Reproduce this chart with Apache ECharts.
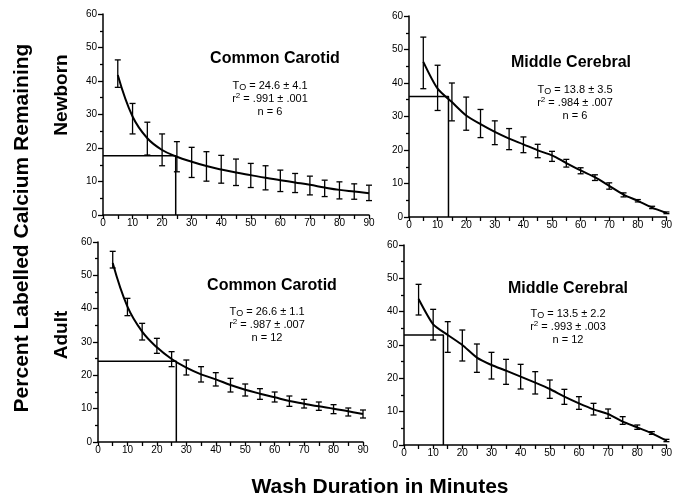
<!DOCTYPE html>
<html>
<head>
<meta charset="utf-8">
<script src="https://cdn.jsdelivr.net/npm/echarts@6/dist/echarts.min.js"></script>
<style>
html,body{margin:0;padding:0;background:#fff;}
#main{width:675px;height:502px;}
</style>
</head>
<body>
<div id="main"></div>
<script>
// wash time points (minutes)
var minutes = [5,10,15,20,25,30,35,40,45,50,55,60,65,70,75,80,85,90];

// newborn common carotid
var nbCcCurve = [41.8,29.4,22.9,19.4,17.4,15.9,14.6,13.6,12.7,11.9,11.1,10.4,9.7,9.0,8.2,7.5,7.0,6.5];
var nbCcHigh  = [46.3,33.3,27.7,24.2,21.9,20.2,18.9,17.8,16.7,15.4,14.7,13.4,12.4,11.6,10.4,9.9,9.3,8.9];
var nbCcLow   = [38.1,24.2,17.9,14.7,12.9,11.2,10.1,9.5,8.8,8.2,7.5,7.0,6.7,6.0,5.5,4.8,4.7,4.3];

// newborn middle cerebral
var nbMcCurve = [46.3,38.3,34.3,30.3,27.7,25.4,23.4,21.7,19.9,18.4,16.1,13.9,11.9,9.3,6.7,4.8,2.8,1.2];
var nbMcHigh  = [53.7,45.3,40.0,35.8,32.1,28.7,26.4,23.9,21.7,19.6,17.2,14.7,12.6,10.2,7.2,5.2,3.2,1.5];
var nbMcLow   = [38.3,31.8,28.7,25.9,23.7,21.6,20.1,19.2,17.7,16.6,14.9,12.9,10.9,8.3,6.0,4.5,2.5,1.0];

// adult common carotid
var adCcCurve = [53.7,40.6,33.1,28.4,24.9,22.3,20.3,18.8,17.1,15.7,14.5,13.4,12.3,11.5,10.7,10.0,9.2,8.4];
var adCcHigh  = [57.2,43.1,35.6,31.1,27.1,24.6,22.6,20.8,19.1,17.4,16.0,15.0,13.8,12.8,12.0,11.2,10.2,9.6];
var adCcLow   = [52.2,37.9,30.6,26.6,22.6,20.1,18.0,16.8,15.0,13.8,12.8,12.0,10.7,10.2,9.5,8.5,7.8,7.2];

// adult middle cerebral
var adMcCurve = [43.8,36.2,33.0,30.0,26.2,24.0,22.3,20.5,18.7,16.8,14.5,12.5,10.7,9.3,7.0,5.3,3.5,1.3];
var adMcHigh  = [48.2,40.7,37.0,34.5,30.3,27.8,25.7,24.2,22.0,19.5,16.7,14.5,12.5,10.8,8.5,6.0,4.0,1.7];
var adMcLow   = [39.0,31.5,27.8,25.2,21.8,19.8,18.2,16.8,15.3,14.0,12.2,10.7,9.0,8.0,6.2,4.7,3.2,1.0];

// T0 and the level it is read at, per panel (TL, TR, BL, BR)
var t0Values = [24.6, 13.8, 26.6, 13.5];
var t0Levels = [17.7, 36.0, 24.2, 33.0];

var panelTitles = ['Common Carotid','Middle Cerebral','Common Carotid','Middle Cerebral'];
var t0Text = ['24.6 \u00b1 4.1','13.8 \u00b1 3.5','26.6 \u00b1 1.1','13.5 \u00b1 2.2'];
var r2Text = ['.991 \u00b1 .001','.984 \u00b1 .007','.987 \u00b1 .007','.993 \u00b1 .003'];
var nText = ['6','6','12','12'];

var FONT = '"Liberation Sans", Arial, Helvetica, sans-serif';

var panels = [
    {curve: nbCcCurve, hi: nbCcHigh, lo: nbCcLow, smooth: 0.4},
    {curve: nbMcCurve, hi: nbMcHigh, lo: nbMcLow, smooth: 0.25},
    {curve: adCcCurve, hi: adCcHigh, lo: adCcLow, smooth: 0.4},
    {curve: adMcCurve, hi: adMcHigh, lo: adMcLow, smooth: 0.2}
];

var grids = [
    {left: 103, top: 14, width: 266, height: 201},
    {left: 409, top: 16, width: 263, height: 201},
    {left: 98, top: 242, width: 265, height: 200},
    {left: 404, top: 245, width: 266, height: 200}
];
// where the title / stats block sits in each panel
var titlePos = [[275,59],[571,63],[272,286],[568,289]];
var statPos = [[270,79],[575,83],[267,305],[568,307]];

function renderErr(params, api) {
    var x = api.value(0);
    var top = api.coord([x, api.value(1)]);
    var bot = api.coord([x, api.value(2)]);
    var w = 3;
    var st = {stroke: '#000', lineWidth: 1.3};
    return {
        type: 'group',
        children: [
            {type: 'line', shape: {x1: top[0], y1: top[1], x2: bot[0], y2: bot[1]}, style: st},
            {type: 'line', shape: {x1: top[0] - w, y1: top[1], x2: top[0] + w, y2: top[1]}, style: st},
            {type: 'line', shape: {x1: bot[0] - w, y1: bot[1], x2: bot[0] + w, y2: bot[1]}, style: st}
        ]
    };
}

var xAxes = [], yAxes = [], series = [], graphic = [];

for (var i = 0; i < 4; i++) {
    xAxes.push({
        type: 'value', gridIndex: i, min: 0, max: 90, interval: 10,
        axisLine: {lineStyle: {color: '#000', width: 1.5}},
        axisTick: {length: 4, lineStyle: {color: '#000', width: 1.3}},
        minorTick: {show: true, splitNumber: 2, length: 4, lineStyle: {color: '#000', width: 1.3}},
        splitLine: {show: false},
        axisLabel: {color: '#000', fontSize: 10, fontFamily: FONT, margin: 3, showMaxLabel: true}
    });
    yAxes.push({
        type: 'value', gridIndex: i, min: 0, max: 60, interval: 10,
        axisLine: {show: true, lineStyle: {color: '#000', width: 1.5}},
        axisTick: {show: true, length: 5, lineStyle: {color: '#000', width: 1.3}},
        minorTick: {show: true, splitNumber: 2, length: 3, lineStyle: {color: '#000', width: 1.3}},
        splitLine: {show: false},
        axisLabel: {color: '#000', fontSize: 10, fontFamily: FONT, margin: 6}
    });

    var p = panels[i];
    var curveData = [], errData = [];
    for (var j = 0; j < minutes.length; j++) {
        curveData.push([minutes[j], p.curve[j]]);
        errData.push([minutes[j], p.hi[j], p.lo[j]]);
    }

    // fitted curve
    series.push({
        type: 'line', xAxisIndex: i, yAxisIndex: i, data: curveData,
        smooth: p.smooth, symbol: 'none',
        lineStyle: {color: '#000', width: 2}
    });
    // error bars
    series.push({
        type: 'custom', xAxisIndex: i, yAxisIndex: i, data: errData,
        renderItem: renderErr, encode: {x: 0, y: [1, 2]}
    });
    // T0 drop lines
    series.push({
        type: 'line', xAxisIndex: i, yAxisIndex: i, symbol: 'none',
        data: [[0, t0Levels[i]], [t0Values[i], t0Levels[i]], [t0Values[i], 0]],
        lineStyle: {color: '#000', width: 1.5}
    });

    graphic.push({
        type: 'text', x: titlePos[i][0], y: titlePos[i][1],
        style: {
            text: panelTitles[i], fill: '#000', align: 'center', verticalAlign: 'middle',
            font: 'bold 16px ' + FONT
        }
    });
    graphic.push({
        type: 'text', x: statPos[i][0], y: statPos[i][1],
        style: {
            text: '{t|T}{sub|O}{t| = ' + t0Text[i] + '}\n{t|r}{sup|2}{t| = ' + r2Text[i] + '}\n{t|n = ' + nText[i] + '}',
            align: 'center', verticalAlign: 'top', fill: '#000',
            rich: {
                t: {fontSize: 11, fontFamily: FONT, lineHeight: 13, fill: '#000'},
                sub: {fontSize: 9, fontFamily: FONT, lineHeight: 7, verticalAlign: 'bottom', fill: '#000'},
                sup: {fontSize: 8, fontFamily: FONT, lineHeight: 8, verticalAlign: 'top', fill: '#000'}
            }
        }
    });
}

// big axis / row labels
graphic.push({
    type: 'text', x: 22, y: 228, rotation: Math.PI / 2,
    style: {text: 'Percent Labelled Calcium Remaining', font: 'bold 21px ' + FONT, fill: '#000', align: 'center', verticalAlign: 'middle'}
});
graphic.push({
    type: 'text', x: 62, y: 95, rotation: Math.PI / 2,
    style: {text: 'Newborn', font: 'bold 19px ' + FONT, fill: '#000', align: 'center', verticalAlign: 'middle'}
});
graphic.push({
    type: 'text', x: 62, y: 335, rotation: Math.PI / 2,
    style: {text: 'Adult', font: 'bold 19px ' + FONT, fill: '#000', align: 'center', verticalAlign: 'middle'}
});
graphic.push({
    type: 'text', x: 380, y: 487,
    style: {text: 'Wash Duration in Minutes', font: 'bold 21px ' + FONT, fill: '#000', align: 'center', verticalAlign: 'middle'}
});

var myChart = echarts.init(document.getElementById('main'));
myChart.setOption({
    animation: false,
    backgroundColor: '#fff',
    grid: grids,
    xAxis: xAxes,
    yAxis: yAxes,
    series: series,
    graphic: graphic
});
</script>
</body>
</html>
